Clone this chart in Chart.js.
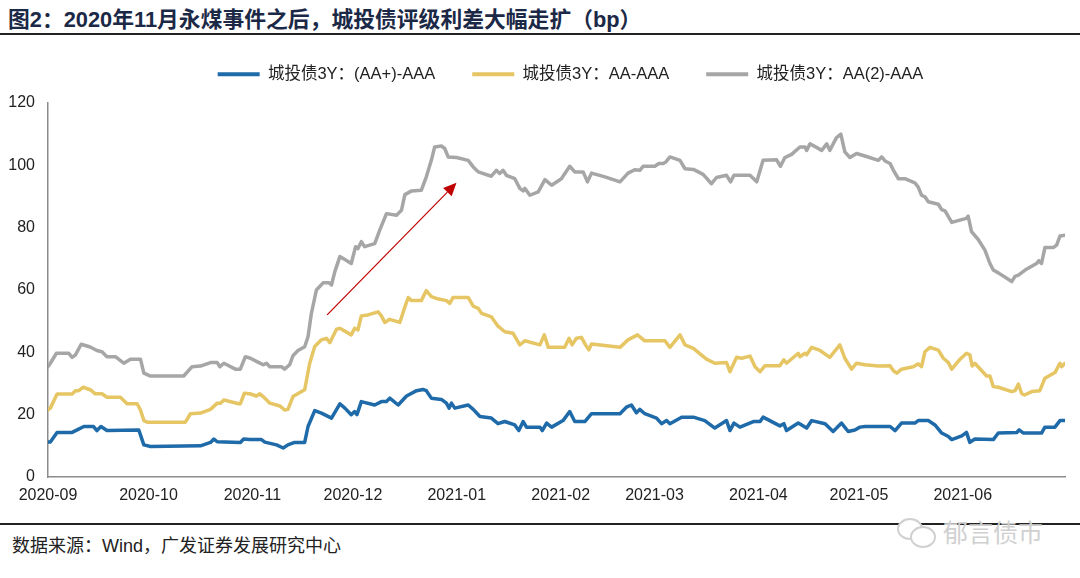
<!DOCTYPE html>
<html>
<head>
<meta charset="utf-8">
<script src="https://cdn.jsdelivr.net/npm/chart.js@4.4.1/dist/chart.umd.min.js"></script>
<style>
  html, body { margin: 0; padding: 0; background: #fff; }
  body { width: 1080px; height: 578px; position: relative; overflow: hidden;
         font-family: "Liberation Sans", Arial, "Noto Sans CJK SC", sans-serif; }
  #title { position: absolute; left: 8px; top: 2px; font-size: 21.8px; font-weight: bold;
           color: #1b2846; white-space: nowrap; }
  .rule { position: absolute; left: 0; width: 1080px; background: #222; }
  #source { position: absolute; left: 12px; top: 531px; font-size: 18px; color: #222; }
  #mark { position: absolute; left: 943px; top: 513px; font-size: 25px; color: #d0d0d0; }
  .bubble { position: absolute; border: 2px solid #d0d0d0; border-radius: 50%; background: #fff; }
  #wrap { position: absolute; left: 0; top: 0; width: 1080px; height: 578px; }
</style>
</head>
<body>
<div id="title">图2：2020年11月永煤事件之后，城投债评级利差大幅走扩（bp）</div>
<div class="rule" style="top:33px;height:2px"></div>
<div class="rule" style="top:523px;height:2px"></div>
<div id="source">数据来源：Wind，广发证券发展研究中心</div>
<div class="bubble" style="left:897px;top:518px;width:22px;height:18px"></div>
<div class="bubble" style="left:910px;top:526px;width:22px;height:18px"></div>
<div id="mark">郁言债市</div>
<div id="wrap"><canvas id="c"></canvas></div>
<script>
// x values are days since 2020-09-01, y values in bp
const START = Date.UTC(2020, 8, 1);
const monthLabels = ['2020-09','2020-10','2020-11','2020-12','2021-01','2021-02','2021-03','2021-04','2021-05','2021-06'];
const seriesNames = ['城投债3Y：(AA+)-AAA', '城投债3Y：AA-AAA', '城投债3Y：AA(2)-AAA'];

const spreadAAplus = [
  [0,11.2],[0.7,11.2],[2.7,14.3],[7.2,14.3],[8.7,15.1],[10.7,16.2],[13.6,16.2],[14.6,14.9],[15.8,16.2],[17.6,14.9],
  [27.1,15.1],[28.6,10.3],[30.6,9.8],[45.5,10.0],[48.5,11.1],[49.5,12.2],[50.5,11.3],[57.4,11.1],[58.4,12.2],[60.2,12.0],
  [63.7,12.0],[64.7,11.2],[68.2,10.3],[70.2,9.3],[71.6,10.3],[73.6,11.1],[76.6,11.1],[77.6,16.2],[79.6,21.3],[81.6,20.5],
  [84.6,18.9],[87.1,23.5],[88.6,22.1],[90.5,20.0],[91.5,21.0],[92.2,20.0],[93.5,24.2],[97.5,23.1],[99.5,24.2],[101,24.2],
  [102,25.3],[104.5,23.1],[107,26.0],[110,27.7],[111.9,28.1],[112.9,27.7],[114.4,25.3],[117.4,24.9],[118.9,23.7],[119.7,22.1],
  [120.4,23.7],[121.4,22.1],[125.4,23.1],[126.9,21.7],[128.9,19.4],[132.3,18.9],[134.3,17.1],[136.3,17.8],[139.3,16.7],[140.5,14.9],
  [141.8,17.8],[142.8,16.0],[146.8,16.0],[147.5,14.9],[148.8,17.3],[150.3,16.0],[153.7,18.1],[155.7,21.0],[157.2,17.8],[160.2,17.8],
  [162.2,20.3],[170.7,20.3],[172.6,22.4],[174.1,23.1],[175.6,20.6],[176.6,21.7],[178.1,20.3],[181.6,18.9],[183.1,17.1],[184.6,18.1],
  [185.6,17.1],[189.1,19.2],[192.6,19.2],[196,18.1],[199,15.7],[202.5,18.1],[203.5,14.9],[204.7,17.3],[206.5,16.0],[210.5,17.8],
  [212.5,17.8],[213.4,19.2],[218.4,16.4],[219.6,17.1],[220.4,14.9],[223.9,17.3],[226.4,15.7],[227.9,18.1],[231.9,17.1],[234.3,14.6],
  [236.8,17.3],[238.8,14.6],[240.8,15.1],[242.3,16.0],[243.8,16.2],[251.3,16.2],[252.8,14.9],[254.7,17.3],[258.7,17.3],[259.7,18.1],
  [262.7,18.1],[264.7,16.7],[266.7,14.1],[268.7,13.0],[269.7,12.0],[272.7,13.2],[274.1,14.3],[275.1,11.1],[276.6,12.2],[282.1,12.0],
  [283.6,14.1],[289.1,14.3],[289.8,15.1],[291.1,14.1],[296.5,14.1],[297.5,16.0],[300.5,16.0],[302,18.1],[303.5,18.1]
];

const spreadAA = [
  [0,21.5],[0.7,22.1],[2.7,26.6],[7.2,26.6],[8.2,27.7],[9.2,27.7],[10.5,28.8],[12.6,28.0],[14.1,26.7],[16.1,26.7],
  [17.6,25.6],[21.6,25.6],[23.6,23.5],[26.6,23.5],[27.6,21.5],[28.6,18.1],[29.6,17.6],[41,17.6],[42.5,20.3],[45.5,20.5],
  [48.5,21.7],[50.5,23.7],[51.5,23.7],[52.5,24.7],[56.9,23.5],[57.4,23.5],[58.6,26.9],[60.2,26.7],[62.2,26.0],[63.2,26.7],
  [64.2,25.8],[66.2,23.7],[69.2,22.8],[70.6,21.5],[71.6,21.7],[73.1,25.8],[76.6,28.0],[78.1,36.5],[79.6,41.9],[81.6,44.0],
  [83.1,44.5],[84.1,43.1],[86.1,47.4],[87.1,47.7],[90.5,45.6],[91.5,47.7],[92.5,47.2],[93.5,51.7],[95.5,52.0],[98.5,53.0],
  [99.5,51.7],[100.5,49.6],[102,50.6],[105,49.6],[106.2,53.6],[107.5,57.6],[108.5,56.6],[111.4,56.6],[112.9,59.8],[114.4,57.9],
  [115.9,57.3],[118.9,56.6],[119.9,55.7],[120.9,57.6],[125.4,57.6],[126.9,54.8],[128.4,54.1],[129.4,52.5],[132.3,51.4],[134.3,48.4],
  [136.3,46.6],[138.8,46.1],[140.8,42.4],[142.3,43.7],[146.8,42.4],[148.1,45.6],[149.3,41.6],[154.2,41.6],[155.5,44.5],[156.4,42.4],
  [157.7,44.5],[159.2,44.8],[160.4,42.4],[161.4,40.8],[162.2,42.7],[170.7,41.6],[173.1,44.0],[175.9,45.6],[178.1,43.7],[184.1,43.7],
  [185.6,41.6],[188.6,45.6],[190.1,42.4],[192.6,41.3],[196.5,37.8],[199,36.5],[202.5,36.7],[203.5,33.8],[205.5,38.4],[207,38.1],
  [209.5,38.8],[211,35.4],[212.5,33.8],[214,35.7],[218.4,35.7],[219.6,37.6],[220.4,36.5],[223.9,39.7],[224.4,38.6],[225.9,39.7],
  [226.4,39.2],[227.9,41.6],[230.4,40.6],[233.3,38.4],[236.3,42.4],[237.8,38.1],[239.8,34.6],[241.3,36.5],[243.8,36.0],[247.8,35.6],
  [251.3,35.7],[252.3,34.1],[253.3,33.3],[254.7,34.6],[258.2,35.4],[259.7,36.3],[260.7,35.4],[261.7,40.2],[263.2,41.6],[265.7,40.7],
  [267.2,38.1],[268.7,36.7],[269.7,34.6],[272.2,37.8],[274.1,39.7],[275.1,39.2],[275.8,35.6],[276.6,36.5],[280.1,32.4],[281.1,32.4],
  [282.1,29.0],[283.6,28.8],[287.6,27.4],[288.6,27.7],[289.6,29.8],[290.6,26.7],[291.4,26.3],[293.6,27.4],[296,27.7],[297.5,31.7],
  [300.5,33.5],[302,36.5],[302.5,35.4],[303.5,36.5]
];

const spreadAA2 = [
  [0,35.4],[0.7,36.5],[2.5,39.7],[6.2,39.7],[7.2,38.4],[8.2,39.2],[9.9,42.6],[12.6,41.7],[14.6,40.6],[16.1,40.2],
  [17.6,38.6],[20.1,38.6],[22.6,36.5],[24.6,37.8],[27.6,37.8],[28.6,33.3],[30.6,32.4],[40.5,32.4],[43,35.4],[45.5,35.6],
  [48.5,36.7],[50.5,36.7],[51.3,35.4],[52.5,36.5],[55.9,34.6],[57.4,34.6],[58.9,38.6],[60.4,38.1],[62.2,37.1],[64.2,36.0],
  [65.2,36.5],[66.2,35.4],[69.7,35.4],[70.6,34.6],[72.1,36.0],[73.1,38.9],[74.6,40.6],[76.6,41.8],[77.6,45.0],[78.6,52.5],
  [80.1,60.0],[82.1,62.3],[83.9,62.3],[84.6,61.6],[85.6,65.9],[87.1,70.7],[88.6,69.8],[90.5,68.5],[91.8,73.9],[92.5,73.3],
  [93.5,75.5],[94.5,73.9],[97.5,74.9],[99,79.2],[101,84.5],[104,84.0],[105.5,85.6],[106.5,90.6],[108.5,91.8],[111.4,92.0],
  [112.9,96.3],[114.4,101.6],[115.4,105.9],[117.4,106.2],[118.4,105.4],[119.4,102.7],[121.9,102.5],[125.4,101.6],[126.9,99.5],[128.4,97.9],
  [132.3,96.5],[133.8,98.4],[134.8,97.4],[135.8,98.4],[136.8,96.8],[139.3,95.7],[140.8,92.6],[141.8,91.8],[142.3,92.6],[143.8,90.4],
  [146.3,91.5],[148.3,95.4],[150.3,93.6],[153.2,95.7],[155.7,99.7],[157.2,97.9],[159.7,97.9],[161,94.7],[162.2,97.5],[166.2,96.3],
  [170.7,94.7],[173.1,97.5],[175.1,98.6],[176.6,98.4],[177.6,99.7],[181.1,99.7],[182.3,100.6],[183.6,100.6],[184.4,101.1],[185.6,102.7],
  [188.6,101.6],[190.1,98.9],[192.6,98.7],[195.5,97.1],[198,94.1],[199.5,96.1],[202.5,96.8],[203.7,94.7],[204.7,96.8],[209.5,96.8],
  [211.5,94.7],[213.4,101.6],[217.4,101.8],[218.6,99.7],[219.9,102.5],[221.9,103.5],[224.4,105.9],[225.9,105.9],[226.4,104.8],[227.4,106.9],
  [230.9,104.8],[232.4,106.9],[233.3,104.8],[235.3,108.9],[236.6,110.0],[237.8,104.3],[239.3,102.5],[241.3,103.8],[243.8,103.0],[247.8,101.6],
  [248.8,102.7],[249.8,101.4],[251.3,100.6],[252.3,98.4],[253.8,95.7],[255.7,95.7],[258.7,94.4],[259.7,93.0],[260.7,90.4],[261.7,89.9],
  [262.7,88.3],[265.7,87.5],[266.7,85.8],[267.7,85.4],[269.7,81.7],[272.7,82.6],[274.1,83.0],[274.6,83.7],[275.6,78.7],[277.6,76.2],
  [279.6,72.8],[281.1,68.5],[282.1,66.4],[283.6,65.5],[287.6,62.7],[288.6,64.4],[289.6,64.8],[291.6,66.4],[295,68.5],[295.7,69.4],
  [296.5,68.5],[297.5,73.6],[300,73.6],[301,74.4],[302,77.3],[303.5,77.6]
];

// red arrow annotation, in (day, bp)
const arrowFrom = [83.3, 52.0];
const arrowTo = [121.9, 94.4];

const COLORS = ['#1f6aa8', '#e6c664', '#a6a6a6'];
const FONT = "'Liberation Sans', Arial, 'Noto Sans CJK SC', sans-serif";

function dayOf(label) {
  return (Date.parse(label + '-01T00:00:00Z') - START) / 86400000;
}
const monthTicks = monthLabels.map(dayOf);

function toPoints(arr) { return arr.map(p => ({ x: p[0], y: p[1] })); }

const arrowPlugin = {
  id: 'arrow',
  afterDatasetsDraw(chart) {
    const { ctx, scales: { x, y } } = chart;
    const x0 = x.getPixelForValue(arrowFrom[0]), y0 = y.getPixelForValue(arrowFrom[1]);
    const x1 = x.getPixelForValue(arrowTo[0]), y1 = y.getPixelForValue(arrowTo[1]);
    const ang = Math.atan2(y1 - y0, x1 - x0);
    const head = 13, hw = 6;
    const bx = x1 - head * Math.cos(ang), by = y1 - head * Math.sin(ang);
    ctx.save();
    ctx.strokeStyle = '#c00000';
    ctx.fillStyle = '#c00000';
    ctx.lineWidth = 1.2;
    ctx.beginPath(); ctx.moveTo(x0, y0); ctx.lineTo(bx, by); ctx.stroke();
    ctx.beginPath();
    ctx.moveTo(x1, y1);
    ctx.lineTo(bx + hw * Math.sin(ang), by - hw * Math.cos(ang));
    ctx.lineTo(bx - hw * Math.sin(ang), by + hw * Math.cos(ang));
    ctx.closePath(); ctx.fill();
    ctx.restore();
  }
};

// fixed legend height so the plot starts at the right place, legend nudged right
const legendFix = {
  id: 'legendFix',
  beforeInit(chart) {
    const fit = chart.legend.fit;
    chart.legend.fit = function () { fit.bind(chart.legend)(); this.height = 74; };
  },
  afterLayout(chart) {
    chart.legend.left += 38;
    chart.legend.right += 38;
  }
};

new Chart(document.getElementById('c'), {
  type: 'line',
  data: {
    datasets: [spreadAAplus, spreadAA, spreadAA2].map((s, i) => ({
      label: seriesNames[i],
      data: toPoints(s),
      borderColor: COLORS[i],
      backgroundColor: COLORS[i],
      borderWidth: 3.5,
      pointRadius: 0,
      tension: 0,
      borderJoinStyle: 'round',
      borderCapStyle: 'round'
    }))
  },
  options: {
    responsive: true,
    maintainAspectRatio: false,
    animation: false,
    layout: { padding: { top: 29, left: 0, right: 15, bottom: 74 } },
    plugins: {
      tooltip: { enabled: false },
      legend: {
        position: 'top',
        labels: {
          boxWidth: 42, boxHeight: 4, padding: 37, color: '#222',
          font: { family: FONT, size: 16.5 },
          generateLabels: (chart) => chart.data.datasets.map((ds, i) => ({
            text: ds.label, fillStyle: ds.borderColor, strokeStyle: ds.borderColor,
            lineWidth: 0, hidden: false, datasetIndex: i, fontColor: '#222'
          }))
        }
      }
    },
    scales: {
      x: {
        type: 'linear', min: 0, max: 303.5,
        afterBuildTicks: (scale) => { scale.ticks = monthTicks.map(v => ({ value: v })); },
        afterFit: (scale) => { scale.height = 27; },
        grid: { display: true, drawOnChartArea: false, drawTicks: false },
        border: { color: '#8c8c8c', width: 1.5 },
        ticks: {
          autoSkip: false, maxRotation: 0, padding: 9, color: '#222',
          font: { family: FONT, size: 16 },
          callback: (v) => monthLabels[monthTicks.indexOf(v)] || ''
        }
      },
      y: {
        min: 0, max: 120,
        afterFit: (scale) => { scale.width = 48; },
        grid: { display: true, drawOnChartArea: false, drawTicks: false },
        border: { color: '#8c8c8c', width: 1.5 },
        ticks: { stepSize: 20, padding: 13, color: '#222', font: { family: FONT, size: 16 } }
      }
    }
  },
  plugins: [arrowPlugin, legendFix]
});
</script>
</body>
</html>
